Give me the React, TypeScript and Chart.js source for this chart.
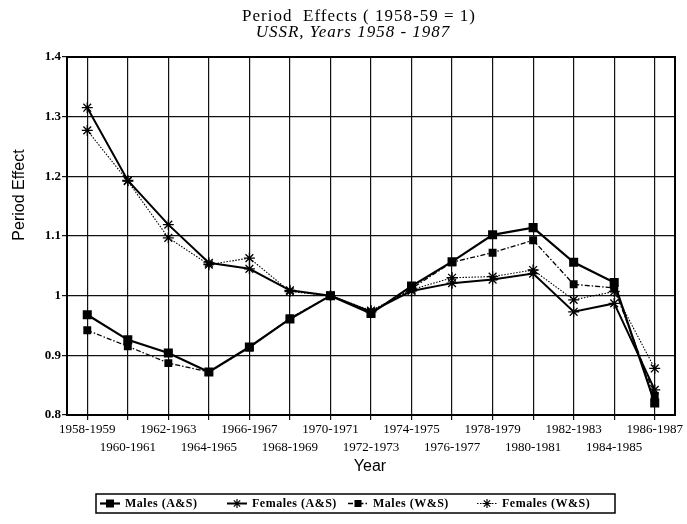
import React, { useEffect, useRef } from "react";
import { Chart, registerables } from "chart.js";

Chart.register(...registerables);

const periods = [
  "1958-1959", "1960-1961", "1962-1963", "1964-1965", "1966-1967",
  "1968-1969", "1970-1971", "1972-1973", "1974-1975", "1976-1977",
  "1978-1979", "1980-1981", "1982-1983", "1984-1985", "1986-1987",
];

const malesAS = [0.968, 0.926, 0.904, 0.872, 0.914, 0.961, 1.0, 0.970, 1.016, 1.057, 1.102, 1.114, 1.056, 1.022, 0.820];
const femalesAS = [1.315, 1.193, 1.119, 1.055, 1.045, 1.009, 1.0, 0.973, 1.008, 1.021, 1.027, 1.037, 0.973, 0.987, 0.842];
const malesWS = [0.942, 0.915, 0.887, 0.872, 0.913, 0.962, 1.0, 0.972, 1.012, 1.056, 1.072, 1.093, 1.019, 1.013, 0.832];
const femalesWS = [1.277, 1.192, 1.097, 1.052, 1.063, 1.007, 1.0, 0.975, 1.010, 1.030, 1.032, 1.043, 0.993, 1.007, 0.878];

const yTicks = [0.8, 0.9, 1, 1.1, 1.2, 1.3, 1.4];
const yTickLabels = ["0.8", "0.9", "1", "1.1", "1.2", "1.3", "1.4"];

const seriesNames = ["Males (A&S)", "Females (A&S)", "Males (W&S)", "Females (W&S)"];
const titleText = "Period  Effects ( 1958-59 = 1)";
const subtitleText = "USSR, Years 1958 - 1987";
const xTitle = "Year";
const yTitle = "Period Effect";

const SERIF = '"Liberation Serif", "Times New Roman", serif';
const SANS = '"Liberation Sans", Arial, sans-serif';

function drawSquare(ctx: CanvasRenderingContext2D, x: number, y: number, s: number) {
  ctx.fillRect(x - s / 2, y - s / 2, s, s);
}
function drawStar(ctx: CanvasRenderingContext2D, x: number, y: number, r: number) {
  ctx.beginPath();
  ctx.moveTo(x - r, y); ctx.lineTo(x + r, y);
  ctx.moveTo(x, y - r); ctx.lineTo(x, y + r);
  const d = r * Math.SQRT1_2;
  ctx.moveTo(x - d, y - d); ctx.lineTo(x + d, y + d);
  ctx.moveTo(x - d, y + d); ctx.lineTo(x + d, y - d);
  ctx.stroke();
}

const decorPlugin = {
  id: "decor",
  afterDraw(chart: any) {
    const { ctx, chartArea: a } = chart;
    ctx.save();
    ctx.strokeStyle = "#000";
    ctx.fillStyle = "#000";
    ctx.lineWidth = 2;
    ctx.setLineDash([]);
    ctx.strokeRect(a.left, a.top, a.right - a.left, a.bottom - a.top);

    ctx.textAlign = "center";
    ctx.textBaseline = "middle";
    (ctx as any).letterSpacing = "1px";
    ctx.font = `17px ${SERIF}`;
    ctx.fillText(titleText, 359, 17);
    ctx.font = `italic 17px ${SERIF}`;
    ctx.fillText(subtitleText, 353, 33);
    (ctx as any).letterSpacing = "0px";

    ctx.font = `16px ${SANS}`;
    ctx.fillText(xTitle, 370, 467);
    ctx.save();
    ctx.translate(20, 195);
    ctx.rotate(-Math.PI / 2);
    ctx.fillText(yTitle, 0, 0);
    ctx.restore();

    // legend
    const ly = 503.5;
    ctx.lineWidth = 1.5;
    ctx.strokeRect(96, 494, 519, 19);
    const sampleX = [110, 237, 358, 487];
    const textX = [125, 252, 373, 502];
    const datasets = chart.data.datasets;
    ctx.textAlign = "left";
    (ctx as any).letterSpacing = "0.5px";
    ctx.font = `bold 12px ${SERIF}`;
    for (let i = 0; i < 4; i++) {
      const ds = datasets[i];
      ctx.save();
      ctx.lineWidth = ds.borderWidth;
      ctx.setLineDash(ds.borderDash || []);
      ctx.beginPath();
      ctx.moveTo(sampleX[i] - 10, ly);
      ctx.lineTo(sampleX[i] + 10, ly);
      ctx.stroke();
      ctx.setLineDash([]);
      ctx.lineWidth = 1.2;
      if (ds.pointStyle === "rect") drawSquare(ctx, sampleX[i], ly, i === 0 ? 8 : 7);
      else drawStar(ctx, sampleX[i], ly, 4.5);
      ctx.restore();
      ctx.fillText(seriesNames[i], textX[i], ly + 0.5);
    }
    (ctx as any).letterSpacing = "0px";
    ctx.restore();
  },
};

export default function App() {
  const ref = useRef<HTMLCanvasElement | null>(null);
  useEffect(() => {
    if (!ref.current) return;
    const chart = new Chart(ref.current, {
      type: "line",
      data: {
        labels: periods,
        datasets: [
          {
            label: seriesNames[0], data: malesAS, borderColor: "#000", backgroundColor: "#000",
            borderWidth: 2.2, pointStyle: "rect", pointRadius: 6.4, pointBorderWidth: 0,
            pointBackgroundColor: "#000", tension: 0, fill: false,
          },
          {
            label: seriesNames[1], data: femalesAS, borderColor: "#000", backgroundColor: "#000",
            borderWidth: 2, pointStyle: "star", pointRadius: 5.5, pointBorderWidth: 1.3,
            pointBorderColor: "#000", tension: 0, fill: false,
          },
          {
            label: seriesNames[2], data: malesWS, borderColor: "#000", backgroundColor: "#000",
            borderWidth: 1.3, borderDash: [5, 2, 1.5, 2], pointStyle: "rect", pointRadius: 5.6,
            pointBorderWidth: 0, pointBackgroundColor: "#000", tension: 0, fill: false,
          },
          {
            label: seriesNames[3], data: femalesWS, borderColor: "#000", backgroundColor: "#000",
            borderWidth: 1.1, borderDash: [1.5, 1.5], pointStyle: "star", pointRadius: 5.5,
            pointBorderWidth: 1.3, pointBorderColor: "#000", tension: 0, fill: false,
          },
        ],
      },
      options: {
        responsive: false,
        animation: false,
        devicePixelRatio: 1,
        layout: { padding: { top: 57, right: 12, left: 0, bottom: 0 } },
        plugins: {
          legend: { display: false },
          title: { display: false },
          tooltip: { enabled: false },
        },
        scales: {
          x: {
            type: "category",
            offset: true,
            grid: { color: "#111", lineWidth: 1.2, tickLength: 5, drawTicks: true, offset: false },
            border: { color: "#000", width: 2 },
            ticks: {
              autoSkip: false,
              maxRotation: 0,
              minRotation: 0,
              padding: 0,
              color: "#000",
              font: { family: SERIF, size: 13, lineHeight: 1.4 },
              callback: (_v: any, i: number) => (i % 2 === 0 ? periods[i] : ["", periods[i]]),
            },
            afterFit: (s: any) => { s.height = 109; },
          },
          y: {
            min: 0.8,
            max: 1.4,
            afterBuildTicks: (s: any) => { s.ticks = yTicks.map((v) => ({ value: v })); },
            grid: { color: "#111", lineWidth: 1.2, tickLength: 5, drawTicks: true },
            border: { color: "#000", width: 2 },
            ticks: {
              padding: 1,
              color: "#000",
              font: { family: SERIF, size: 13, weight: "bold" },
              callback: (v: any) => {
                const idx = yTicks.findIndex((t) => Math.abs(t - Number(v)) < 1e-6);
                return idx >= 0 ? yTickLabels[idx] : "";
              },
            },
            afterFit: (s: any) => { s.width = 67; },
          },
        },
      },
      plugins: [decorPlugin],
    } as any);
    return () => chart.destroy();
  }, []);

  return (
    <div style={{ position: "absolute", left: 0, top: 0, width: 687, height: 524, background: "#fff" }}>
      <canvas ref={ref} width={687} height={524} style={{ width: 687, height: 524, display: "block" }} />
    </div>
  );
}
